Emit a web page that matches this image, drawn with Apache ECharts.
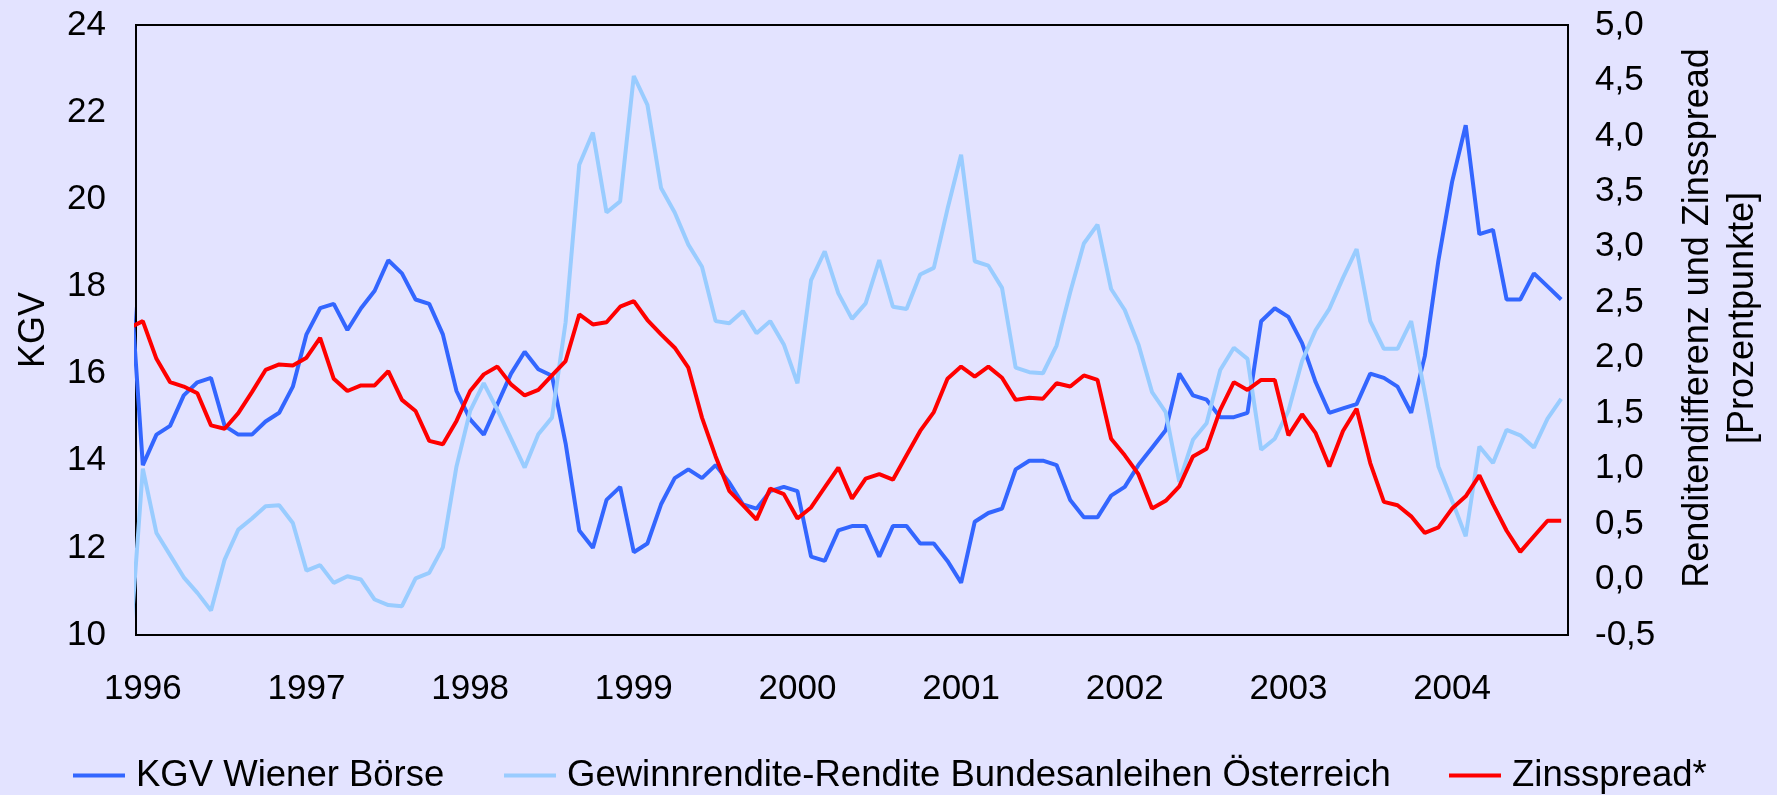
<!DOCTYPE html>
<html>
<head>
<meta charset="utf-8">
<script src="https://cdn.jsdelivr.net/npm/echarts@6/dist/echarts.min.js"></script>
<style>
html,body{margin:0;padding:0;background:#E3E3FF;}
#chart{width:1777px;height:795px;}
</style>
</head>
<body>
<div id="chart"></div>
<script>
// Year tick labels (January of each year; month index 1 = Jan 1996, index 0 = Dec 1995)
const yearLabels = ['1996','1997','1998','1999','2000','2001','2002','2003','2004'];

// KGV Wiener Börse (left axis), monthly Dec 1995 .. Sep 2004
const kgv = [
  18.5,
  13.9, 14.6, 14.8, 15.5, 15.8, 15.9, 14.8, 14.6, 14.6, 14.9, 15.1, 15.7,
  16.9, 17.5, 17.6, 17.0, 17.5, 17.9, 18.6, 18.3, 17.7, 17.6, 16.9, 15.6,
  14.95, 14.6, 15.3, 16.0, 16.5, 16.1, 15.95, 14.4, 12.4, 12.0, 13.1, 13.4,
  11.9, 12.1, 13.0, 13.6, 13.8, 13.6, 13.9, 13.5, 13.0, 12.9, 13.3, 13.4,
  13.3, 11.8, 11.7, 12.4, 12.5, 12.5, 11.8, 12.5, 12.5, 12.1, 12.1, 11.7,
  11.2, 12.6, 12.8, 12.9, 13.8, 14.0, 14.0, 13.9, 13.1, 12.7, 12.7, 13.2,
  13.4, 13.9, 14.3, 14.7, 16.0, 15.5, 15.4, 15.0, 15.0, 15.1, 17.2, 17.5,
  17.3, 16.7, 15.8, 15.1, 15.2, 15.3, 16.0, 15.9, 15.7, 15.1, 16.4, 18.6,
  20.4, 21.7, 19.2, 19.3, 17.7, 17.7, 18.3, 18.0, 17.7
];

// Gewinnrendite-Rendite Bundesanleihen Österreich (right axis)
const gewinn = [
  -0.7,
  1.00, 0.42, 0.22, 0.02, -0.12, -0.28, 0.18, 0.45, 0.55, 0.66, 0.67, 0.51,
  0.08, 0.13, -0.03, 0.03, 0.00, -0.18, -0.23, -0.24, 0.01, 0.06, 0.29, 1.02,
  1.52, 1.77, 1.53, 1.27, 1.01, 1.31, 1.46, 2.32, 3.74, 4.03, 3.31, 3.41,
  4.54, 4.28, 3.53, 3.31, 3.02, 2.82, 2.33, 2.31, 2.42, 2.22, 2.33, 2.12,
  1.77, 2.70, 2.96, 2.58, 2.35, 2.49, 2.88, 2.46, 2.44, 2.75, 2.81, 3.34,
  3.83, 2.87, 2.83, 2.63, 1.91, 1.87, 1.86, 2.11, 2.59, 3.03, 3.20, 2.62,
  2.43, 2.12, 1.69, 1.51, 0.88, 1.26, 1.41, 1.89, 2.09, 1.99, 1.17, 1.27,
  1.52, 1.97, 2.25, 2.44, 2.72, 2.98, 2.33, 2.08, 2.08, 2.33, 1.68, 1.02,
  0.71, 0.39, 1.20, 1.05, 1.35, 1.30, 1.19, 1.45, 1.63
];

// Zinsspread* (right axis)
const zins = [
  2.27,
  2.33, 1.99, 1.78, 1.74, 1.68, 1.39, 1.36, 1.50, 1.69, 1.89, 1.94, 1.93,
  2.00, 2.18, 1.81, 1.70, 1.75, 1.75, 1.88, 1.62, 1.52, 1.25, 1.22, 1.43,
  1.70, 1.85, 1.92, 1.76, 1.66, 1.71, 1.84, 1.97, 2.39, 2.30, 2.32, 2.46,
  2.51, 2.34, 2.21, 2.09, 1.91, 1.46, 1.11, 0.80, 0.67, 0.54, 0.82, 0.77,
  0.55, 0.65, 0.83, 1.01, 0.73, 0.91, 0.95, 0.90, 1.12, 1.34, 1.51, 1.81,
  1.92, 1.83, 1.92, 1.82, 1.62, 1.64, 1.63, 1.77, 1.74, 1.84, 1.80, 1.27,
  1.12, 0.95, 0.64, 0.71, 0.84, 1.11, 1.18, 1.53, 1.78, 1.71, 1.80, 1.80,
  1.30, 1.49, 1.32, 1.02, 1.34, 1.54, 1.05, 0.70, 0.67, 0.57, 0.42, 0.47,
  0.64, 0.75, 0.94, 0.68, 0.44, 0.25, 0.39, 0.53, 0.53
];

const seriesNames = ['KGV Wiener Börse', 'Gewinnrendite-Rendite Bundesanleihen Österreich', 'Zinsspread*'];
const seriesColors = ['#3366FF', '#99CCFF', '#FF0000'];

const FONT = '"Liberation Sans", Arial, sans-serif';
const chart = echarts.init(document.getElementById('chart'), null, {renderer: 'canvas'});

function legendFor(k, left) {
  return {
    data: [{name: seriesNames[k], icon: 'rect', itemStyle: {color: seriesColors[k]}}],
    left: left, top: 757,
    padding: 0,
    itemWidth: 52, itemHeight: 4,
    selectedMode: false,
    textStyle: {fontFamily: FONT, fontSize: 36.5, color: '#000', padding: [0, 0, 0, 6]}
  };
}

const option = {
  animation: false,
  backgroundColor: '#E3E3FF',
  grid: {left: 136, top: 25, width: 1432, height: 610, show: true,
         backgroundColor: 'transparent', borderColor: '#000', borderWidth: 2},
  legend: [legendFor(0, 73), legendFor(1, 504), legendFor(2, 1449)],
  xAxis: {
    type: 'value', min: 0.5, max: 105.5,
    splitLine: {show: false},
    axisLine: {show: false}, axisTick: {show: false},
    axisLabel: {
      customValues: yearLabels.map((_, k) => 1 + 12 * k),
      formatter: (v) => yearLabels[Math.round((v - 1) / 12)],
      margin: 37, fontFamily: FONT, fontSize: 35, color: '#000'
    }
  },
  yAxis: [
    {
      type: 'value', min: 10, max: 24, interval: 2, position: 'left',
      name: 'KGV', nameLocation: 'middle', nameGap: 84, nameRotate: 90,
      nameTextStyle: {fontFamily: FONT, fontSize: 36, color: '#000'},
      splitLine: {show: false}, axisLine: {show: false}, axisTick: {show: false},
      axisLabel: {margin: 30, fontFamily: FONT, fontSize: 35, color: '#000'}
    },
    {
      type: 'value', min: -0.5, max: 5, interval: 0.5, position: 'right',
      name: 'Renditendifferenz und Zinsspread\n[Prozentpunkte]',
      nameLocation: 'middle', nameGap: 108, nameRotate: 90,
      nameTextStyle: {fontFamily: FONT, fontSize: 36, color: '#000', lineHeight: 45,
                      padding: [0, 0, 0, 24]},
      splitLine: {show: false}, axisLine: {show: false}, axisTick: {show: false},
      axisLabel: {margin: 27, fontFamily: FONT, fontSize: 35, color: '#000',
                  formatter: (v) => v.toFixed(1).replace('.', ',')}
    }
  ],
  series: [
    {name: seriesNames[0], type: 'line', yAxisIndex: 0, symbol: 'none', clip: true,
     data: kgv.map((v, i) => [i, v]),
     lineStyle: {color: seriesColors[0], width: 4}, itemStyle: {color: seriesColors[0]}},
    {name: seriesNames[1], type: 'line', yAxisIndex: 1, symbol: 'none', clip: true,
     data: gewinn.map((v, i) => [i, v]),
     lineStyle: {color: seriesColors[1], width: 4}, itemStyle: {color: seriesColors[1]}},
    {name: seriesNames[2], type: 'line', yAxisIndex: 1, symbol: 'none', clip: true,
     data: zins.map((v, i) => [i, v]),
     lineStyle: {color: seriesColors[2], width: 4}, itemStyle: {color: seriesColors[2]}}
  ]
};
chart.setOption(option);
</script>
</body>
</html>
